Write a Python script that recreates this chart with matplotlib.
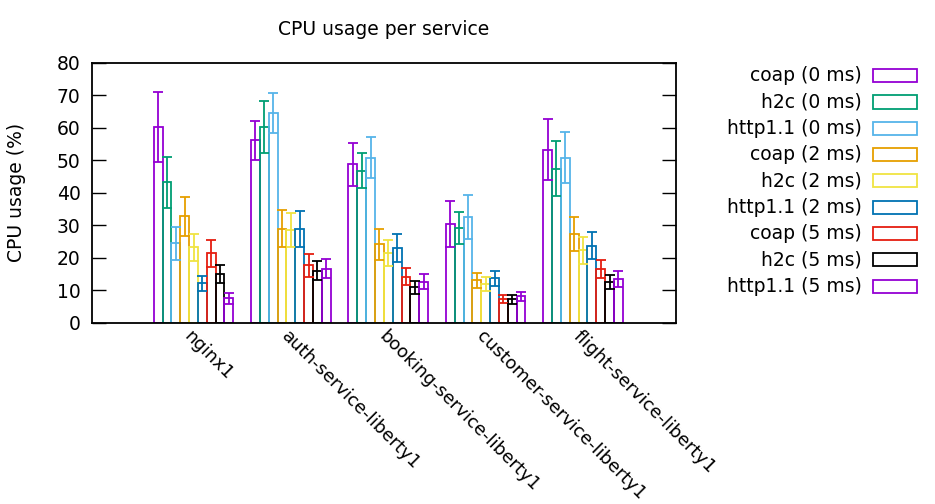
import matplotlib
matplotlib.use("Agg")
import matplotlib.pyplot as plt
import matplotlib.transforms as mtransforms
from matplotlib.patches import Rectangle
import numpy as np

plt.rcParams['font.family'] = ['DejaVu Sans']

services = ["nginx1", "auth-service-liberty1", "booking-service-liberty1",
            "customer-service-liberty1", "flight-service-liberty1"]

series_labels = ["coap (0 ms)", "h2c (0 ms)", "http1.1 (0 ms)",
                 "coap (2 ms)", "h2c (2 ms)", "http1.1 (2 ms)",
                 "coap (5 ms)", "h2c (5 ms)", "http1.1 (5 ms)"]

colors = ["#9400d3", "#009e73", "#56b4e9", "#e69f00", "#f0e442",
          "#0072b2", "#e51e10", "#000000", "#9400d3"]

# mean CPU usage (%) per service, one list per series
coap_0 = [60.2, 56.1, 48.7, 30.4, 53.2]
h2c_0 = [43.2, 60.2, 46.8, 29.2, 47.4]
http11_0 = [24.4, 64.6, 50.8, 32.6, 50.8]
coap_2 = [32.7, 28.9, 24.1, 13.1, 27.3]
h2c_2 = [23.2, 28.5, 21.4, 11.9, 22.3]
http11_2 = [12.2, 28.9, 23.0, 13.6, 23.7]
coap_5 = [21.3, 17.6, 14.2, 7.2, 16.5]
h2c_5 = [15.0, 16.0, 10.9, 7.2, 12.5]
http11_5 = [7.5, 16.6, 12.6, 8.1, 13.5]

# standard deviation per service, one list per series
coap_0_err = [10.8, 6.1, 6.5, 7.1, 9.4]
h2c_0_err = [7.8, 7.9, 5.5, 4.9, 8.5]
http11_0_err = [5.0, 6.2, 6.2, 6.7, 7.8]
coap_2_err = [6.1, 5.7, 4.7, 2.3, 5.1]
h2c_2_err = [4.2, 5.3, 4.0, 2.3, 4.2]
http11_2_err = [2.3, 5.5, 4.2, 2.4, 4.2]
coap_5_err = [4.1, 3.4, 2.5, 1.2, 2.8]
h2c_5_err = [2.8, 3.0, 2.0, 1.3, 2.2]
http11_5_err = [1.6, 3.0, 2.3, 1.3, 2.4]

values = [coap_0, h2c_0, http11_0, coap_2, h2c_2, http11_2, coap_5, h2c_5, http11_5]
errors = [coap_0_err, h2c_0_err, http11_0_err, coap_2_err, h2c_2_err,
          http11_2_err, coap_5_err, h2c_5_err, http11_5_err]

FS = 13.5
W, H = 935, 504
fig = plt.figure(figsize=(W / 100, H / 100), dpi=100)
ax = fig.add_axes([91.7 / W, 1 - 322.7 / H, (676 - 91.7) / W, (322.7 - 62.7) / H])

n = len(values)
slot = 1.0 / (n + 2)          # cluster of n bars plus a gap of two bar widths
x = np.arange(len(services))

for j, (vals, errs, col) in enumerate(zip(values, errors, colors)):
    left = x - 0.5 + (j + 1.5) * slot
    centers = left + slot / 2
    ax.bar(centers, vals, width=slot, fill=False, edgecolor=col, linewidth=1.3, zorder=2)
    ax.errorbar(centers, vals, yerr=errs, fmt='none', ecolor=col, elinewidth=1.3,
                capsize=3.8, capthick=1.3, zorder=3)

ax.set_xlim(-1, 5)
ax.set_ylim(0, 80)
ax.set_yticks(np.arange(0, 81, 10))
ax.set_xticks(x)
ax.set_xticklabels(services, rotation=-45, ha='left', va='top',
                   rotation_mode='anchor', fontsize=13)
ax.tick_params(axis='x', length=0, pad=3)
shift = mtransforms.ScaledTranslation(4 / 100, 0, fig.dpi_scale_trans)
for lbl in ax.get_xticklabels():
    lbl.set_transform(lbl.get_transform() + shift)
ax.tick_params(axis='y', direction='in', length=10, width=1, right=True,
               labelsize=FS, pad=8)
for s in ax.spines.values():
    s.set_linewidth(1.3)

ax.set_ylabel("CPU usage (%)", fontsize=FS, labelpad=22)
ax.set_title("CPU usage per service", fontsize=FS, pad=20)

# key on the right side of the figure
row0 = 75.7
row_step = 26.3
for i, (lab, col) in enumerate(zip(series_labels, colors)):
    yc = row0 + i * row_step
    fig.text(862 / W, 1 - yc / H, lab, ha='right', va='center', fontsize=FS)
    fig.add_artist(Rectangle((873 / W, 1 - (yc + 6.5) / H), 44 / W, 13 / H,
                             transform=fig.transFigure, fill=False,
                             edgecolor=col, linewidth=1.3))

fig.savefig("out.png", dpi=100)
